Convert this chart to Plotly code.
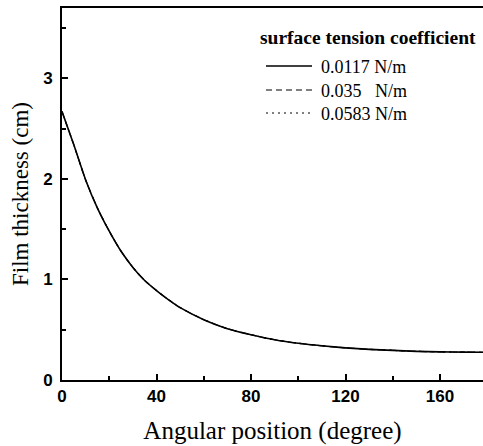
import plotly.graph_objects as go

angle = [0, 5, 10, 15, 20, 25, 30, 35, 40, 45, 50, 60, 70, 80, 90, 100, 110, 120, 130, 140, 150, 160, 170, 180]
thick_0117 = [2.67, 2.34, 1.99, 1.71, 1.48, 1.28, 1.12, 0.99, 0.89, 0.80, 0.72, 0.60, 0.51, 0.45, 0.40, 0.365, 0.34, 0.32, 0.305, 0.295, 0.285, 0.28, 0.277, 0.275]
thick_035 = [2.67, 2.34, 1.99, 1.71, 1.48, 1.28, 1.12, 0.99, 0.89, 0.80, 0.72, 0.60, 0.51, 0.45, 0.40, 0.365, 0.34, 0.32, 0.305, 0.295, 0.285, 0.28, 0.277, 0.275]
thick_0583 = [2.67, 2.34, 1.99, 1.71, 1.48, 1.28, 1.12, 0.99, 0.89, 0.80, 0.72, 0.60, 0.51, 0.45, 0.40, 0.365, 0.34, 0.32, 0.305, 0.295, 0.285, 0.28, 0.277, 0.275]
names = ["0.0117 N/m", "0.035\u00a0\u00a0 N/m", "0.0583 N/m"]
legend_title = "<b>surface tension coefficient</b>"

serif = "Times New Roman, Liberation Serif, serif"
sans = "Arial, Liberation Sans, sans-serif"

# plot area in pixels (for placing the hand-drawn legend)
L, T, W, H = 62, 8, 421, 372
px = lambda x: (x - L) / W
py = lambda y: (T + H - y) / H

styles = [dict(dash="solid", width=1.6), dict(dash="6px,4px", width=1.2), dict(dash="2px,4px", width=1.2)]
series = [thick_0117, thick_035, thick_0583]

fig = go.Figure()
for i in (2, 1, 0):
    fig.add_trace(go.Scatter(x=angle, y=series[i], mode="lines", name=names[i], showlegend=False,
                             line=dict(color="black", shape="spline", smoothing=0.6, **styles[i])))

fig.add_annotation(text=legend_title, xref="paper", yref="paper", x=px(258), y=py(37),
                   xanchor="left", yanchor="middle", showarrow=False,
                   font=dict(family=serif, size=19.5, color="black"))
rows = [66, 90, 113]
for i, ry in enumerate(rows):
    fig.add_shape(type="line", xref="paper", yref="paper", x0=px(266), x1=px(312), y0=py(ry), y1=py(ry),
                  line=dict(color="black", **styles[i]))
    fig.add_annotation(text=names[i], xref="paper", yref="paper", x=px(319), y=py(ry + 1),
                       xanchor="left", yanchor="middle", showarrow=False,
                       font=dict(family=serif, size=18, color="black"))

axis_common = dict(showgrid=False, zeroline=False, showline=True, linecolor="black", linewidth=2,
                   ticks="inside", tickcolor="black", tickwidth=1.5, ticklen=6, automargin=False,
                   tickfont=dict(family=sans, size=17, color="black", weight="bold"))

fig.update_layout(
    width=483, height=446,
    margin=dict(l=L, r=0, t=T, b=446 - T - H),
    plot_bgcolor="white", paper_bgcolor="white",
    showlegend=False,
    xaxis=dict(range=[0, 178.2], tickvals=[0, 40, 80, 120, 160], mirror=True,
               minor=dict(tickvals=[20, 60, 100, 140], ticks="inside", ticklen=4, tickcolor="black", tickwidth=1.5),
               title=dict(text="Angular position (degree)", standoff=16,
                          font=dict(family=serif, size=25, color="black")),
               **axis_common),
    yaxis=dict(range=[0, 3.7], tickvals=[0, 1, 2, 3], ticklabelstandoff=4,
               minor=dict(tickvals=[0.5, 1.5, 2.5, 3.5], ticks="inside", ticklen=4, tickcolor="black", tickwidth=1.5),
               title=dict(text="Film thickness (cm)", standoff=8,
                          font=dict(family=serif, size=23, color="black")),
               **axis_common),
)

fig.write_html("out.html", config={"displayModeBar": False},
               post_script="document.body.style.margin='0';document.body.style.overflow='hidden';")
